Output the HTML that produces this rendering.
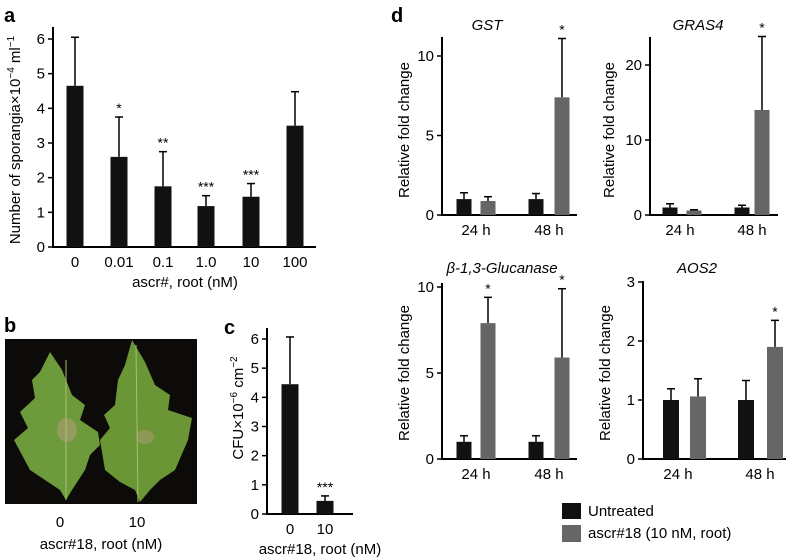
<!DOCTYPE html>
<html><head><meta charset="utf-8"><style>
body{margin:0;background:#fff}
svg{display:block;font-family:"Liberation Sans",sans-serif}
</style></head><body>
<svg id="fig" width="788" height="558" viewBox="0 0 788 558">
<text x="4" y="22" font-size="20" font-weight="bold">a</text>
<text x="4" y="332" font-size="20" font-weight="bold">b</text>
<text x="224" y="334" font-size="20" font-weight="bold">c</text>
<text x="391" y="22" font-size="20" font-weight="bold">d</text>
<g>
<rect x="5" y="339" width="192" height="165" fill="#0d0b0a"/>
<path d="M50 352 L62 370 L72 395 L85 405 L80 420 L98 432 L100 445 L90 455 L85 470 L72 490 L66 500 L60 490 L45 480 L30 470 L14 440 L28 428 L20 412 L35 398 L32 380 L40 372 Z" fill="#6d9a3a"/>
<path d="M132 340 L145 362 L155 385 L170 395 L168 410 L192 418 L188 440 L175 470 L160 480 L150 490 L140 502 L135 490 L120 482 L105 470 L100 440 L110 428 L104 415 L115 405 L118 380 L125 365 Z" fill="#6a9636"/>
<ellipse cx="67" cy="430" rx="10" ry="12" fill="#a79a6e" opacity="0.7"/>
<ellipse cx="145" cy="437" rx="9" ry="7" fill="#a79a6e" opacity="0.6"/>
<line x1="66" y1="360" x2="66" y2="500" stroke="#a8c070" stroke-width="1"/>
<line x1="136" y1="345" x2="138" y2="502" stroke="#a8c070" stroke-width="1"/>
</g>
<text x="60" y="527" font-size="15" text-anchor="middle">0</text>
<text x="137" y="527" font-size="15" text-anchor="middle">10</text>
<text x="101" y="549" font-size="15" text-anchor="middle">ascr#18, root (nM)</text>
<g>
<rect x="562" y="503" width="19" height="16" fill="#111"/>
<text x="588" y="516" font-size="15">Untreated</text>
<rect x="562" y="525" width="19" height="17" fill="#666"/>
<text x="588" y="538" font-size="15">ascr#18 (10 nM, root)</text>
</g>
</svg>
<script>
// Panel a
const aCats=["0","0.01","0.1","1.0","10","100"];
const aVals=[4.65,2.6,1.75,1.18,1.45,3.5];
const aErr=[6.05,3.75,2.75,1.48,1.83,4.48];
const aSig=["","*","**","***","***",""];
const aTicks=[0,1,2,3,4,5,6];
// Panel c
const cCats=["0","10"];
const cVals=[4.45,0.45];
const cErr=[6.07,0.62];
const cSig=["","***"];
const cTicks=[0,1,2,3,4,5,6];
// Panel d (order: untreated 24h, ascr 24h, untreated 48h, ascr 48h)
const gstVals=[1.0,0.88,1.0,7.4];
const gstErr=[1.4,1.15,1.35,11.1];
const gstTicks=[0,5,10];
const grasVals=[1.0,0.6,1.0,14.0];
const grasErr=[1.5,0.7,1.3,23.8];
const grasTicks=[0,10,20];
const glucVals=[1.0,7.9,1.0,5.9];
const glucErr=[1.35,9.4,1.35,9.9];
const glucTicks=[0,5,10];
const aosVals=[1.0,1.06,1.0,1.9];
const aosErr=[1.19,1.36,1.33,2.35];
const aosTicks=[0,1,2,3];
const dSig1=["","","","*"],dSig2=["","*","","*"];
const dTimes=["24 h","48 h"];

const svg=document.getElementById('fig');
const NS='http://www.w3.org/2000/svg';
function mk(tag,at,txt){const e=document.createElementNS(NS,tag);for(const k in at)e.setAttribute(k,at[k]);if(txt!==undefined)e.textContent=txt;svg.appendChild(e);return e;}

function panel(p){
  const y=v=>p.y0-(v-p.min)/(p.max-p.min)*(p.y0-p.yTop);
  const ax=mk('line',{x1:p.ax,y1:p.top,x2:p.ax,y2:p.y0+1,stroke:'#000','stroke-width':2});
  
  
  const bx=mk('line',{x1:p.ax-1,y1:p.y0,x2:p.axEnd,y2:p.y0,stroke:'#000','stroke-width':2});
  
  
  p.ticks.forEach(t=>{
    const l=mk('line',{x1:p.ax-5,y1:y(t),x2:p.ax,y2:y(t),stroke:'#000','stroke-width':1.5});
    
    
    const tx=mk('text',{x:p.ax-8,y:y(t)+5,'font-size':15,'text-anchor':'end'},String(t));
    
    
  });
  p.vals.forEach((v,i)=>{
    const cx=p.xs[i],w=p.bw,col=p.colors[i];
    const ey=y(p.err[i]);
    const el=mk('line',{x1:cx,y1:ey,x2:cx,y2:y(v),stroke:'#000','stroke-width':1.5});
    
    
    const ec=mk('line',{x1:cx-4,y1:ey,x2:cx+4,y2:ey,stroke:'#000','stroke-width':1.5});
    
    
    const r=mk('rect',{x:cx-w/2,y:y(v),width:w,height:p.y0-y(v),fill:col});
    
    
    if(p.sig[i]){
      const s=mk('text',{x:cx,y:ey-4,'font-size':14,'text-anchor':'middle'},p.sig[i]);
      
      
    }
  });
  p.labels.forEach((lb,i)=>{
    const t=mk('text',{x:p.lx[i],y:p.y0+20,'font-size':15,'text-anchor':'middle'},lb);
    
    
  });
  if(p.xTitle){
    const t=mk('text',{x:p.xtx,y:p.y0+40,'font-size':15,'text-anchor':'middle'},p.xTitle);
    
    
  }
  const yt=mk('text',{x:0,y:0,'font-size':15,'text-anchor':'middle',transform:`translate(${p.ytx},${p.yty}) rotate(-90)`});
  yt.innerHTML=p.yTitle;
  
  
  if(p.title){
    const t=mk('text',{x:p.tx,y:p.ty,'font-size':15,'font-style':'italic','text-anchor':'middle'},p.title);
    
    
  }
}
const K='#111',G='#666';
panel({id:'a',ax:53,axEnd:316,top:27,y0:247,yTop:39,min:0,max:6,ticks:aTicks,vals:aVals,err:aErr,sig:aSig,
  xs:[75,119,163,206,251,295],bw:17,colors:Array(6).fill(K),labels:aCats,lx:[75,119,163,206,251,295],
  xTitle:'ascr#, root (nM)',xtx:185,yTitle:'Number of sporangia×10<tspan dy="-6" font-size="10">−4</tspan><tspan dy="6"> ml</tspan><tspan dy="-6" font-size="10">−1</tspan>',ytx:20,yty:140});
panel({id:'c',ax:267,axEnd:353,top:328,y0:514,yTop:339,min:0,max:6,ticks:cTicks,vals:cVals,err:cErr,sig:cSig,
  xs:[290,325],bw:17,colors:[K,K],labels:cCats,lx:[290,325],
  xTitle:'ascr#18, root (nM)',xtx:320,yTitle:'CFU×10<tspan dy="-6" font-size="10">−6</tspan><tspan dy="6"> cm</tspan><tspan dy="-6" font-size="10">−2</tspan>',ytx:243,yty:408});
const dc=[K,G,K,G];
panel({id:'gst',ax:442,axEnd:577,top:37,y0:215,yTop:56,min:0,max:10,ticks:gstTicks,vals:gstVals,err:gstErr,sig:dSig1,
  xs:[464,488,536,562],bw:15,colors:dc,labels:dTimes,lx:[476,549],yTitle:'Relative fold change',ytx:409,yty:130,title:'GST',tx:487,ty:30});
panel({id:'gras4',ax:650,axEnd:778,top:37,y0:215,yTop:65,min:0,max:20,ticks:grasTicks,vals:grasVals,err:grasErr,sig:dSig1,
  xs:[670,694,742,762],bw:15,colors:dc,labels:dTimes,lx:[680,752],yTitle:'Relative fold change',ytx:614,yty:130,title:'GRAS4',tx:698,ty:30});
panel({id:'glucanase',ax:442,axEnd:577,top:283,y0:459,yTop:287,min:0,max:10,ticks:glucTicks,vals:glucVals,err:glucErr,sig:dSig2,
  xs:[464,488,536,562],bw:15,colors:dc,labels:dTimes,lx:[476,549],yTitle:'Relative fold change',ytx:409,yty:373,title:'β-1,3-Glucanase',tx:502,ty:273});
panel({id:'aos2',ax:643,axEnd:786,top:281,y0:459,yTop:282,min:0,max:3,ticks:aosTicks,vals:aosVals,err:aosErr,sig:[...dSig1],
  xs:[671,698,746,775],bw:16,colors:dc,labels:dTimes,lx:[678,760],yTitle:'Relative fold change',ytx:610,yty:373,title:'AOS2',tx:697,ty:273});
</script>
</body></html>
